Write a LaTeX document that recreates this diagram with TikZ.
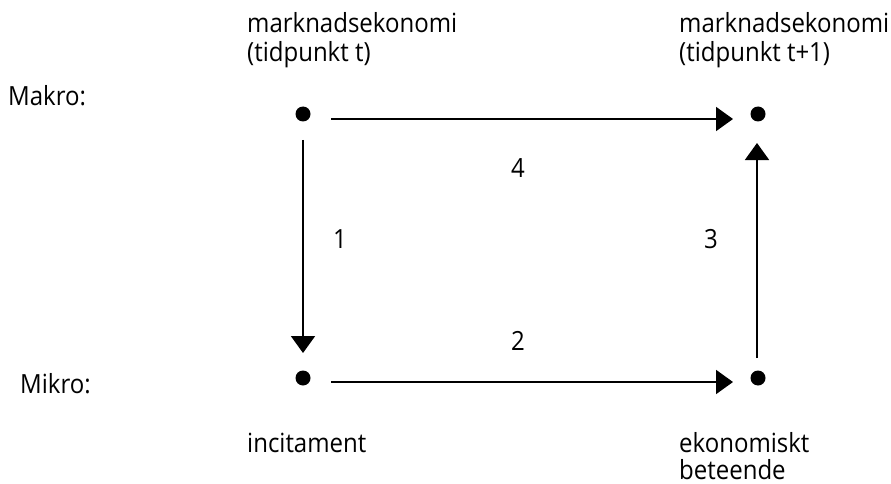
\documentclass[tikz,border=0pt]{standalone}
\usepackage{fontspec}
\usepackage{graphicx}
\setmainfont{Open Sans}
\usetikzlibrary{arrows.meta}
\newcommand{\stt}[1]{\scalebox{1}[1.1]{#1}}
\begin{document}
\begin{tikzpicture}[x=1pt,y=-1pt,
  lbl/.style={anchor=base west,inner sep=0pt,font=\fontsize{24}{27}\selectfont},
  num/.style={anchor=base,inner sep=0pt,font=\fontsize{24}{27}\selectfont},
  dot/.style={circle,fill=black,inner sep=0pt,minimum size=15pt},
  arr/.style={line width=1.9pt,-{Triangle[length=17pt,width=24pt]}}]
\useasboundingbox (0,0) rectangle (891,484);
% dots
\node[dot] (tl) at (303,114) {};
\node[dot] (tr) at (758,114) {};
\node[dot] (bl) at (303,378) {};
\node[dot] (br) at (758,378) {};
% arrow ends
\coordinate (a1s) at (331,119); \coordinate (a1e) at (733,119);
\coordinate (a2s) at (331,382); \coordinate (a2e) at (733,382);
\coordinate (a3s) at (303,140); \coordinate (a3e) at (303,353);
\coordinate (a4s) at (757,358); \coordinate (a4e) at (757,143);
\draw[arr] (a1s) -- (a1e);
\draw[arr] (a2s) -- (a2e);
\draw[arr] (a3s) -- (a3e);
\draw[arr] (a4s) -- (a4e);
% labels
\node[lbl] (m1) at (247,33) {\stt{marknadsekonomi}};
\node[lbl] (m2) at (247,62) {\stt{(tidpunkt t)}};
\node[lbl] (m3) at (679,33) {\stt{marknadsekonomi}};
\node[lbl] (m4) at (679,62) {\stt{(tidpunkt t+1)}};
\node[lbl] (mak) at (8,106) {\stt{Makro:}};
\node[lbl] (mik) at (20,393) {\stt{Mikro:}};
\node[lbl] (inc) at (247,452) {\stt{incitament}};
\node[lbl] (eko) at (679,452) {\stt{ekonomiskt}};
\node[lbl] (bet) at (679,479) {\stt{beteende}};
\node[num] (n4) at (518,177) {\stt{4}};
\node[num] (n1) at (340,248) {\stt{1}};
\node[num] (n3) at (711,248) {\stt{3}};
\node[num] (n2) at (518,350) {\stt{2}};
\end{tikzpicture}
\end{document}
